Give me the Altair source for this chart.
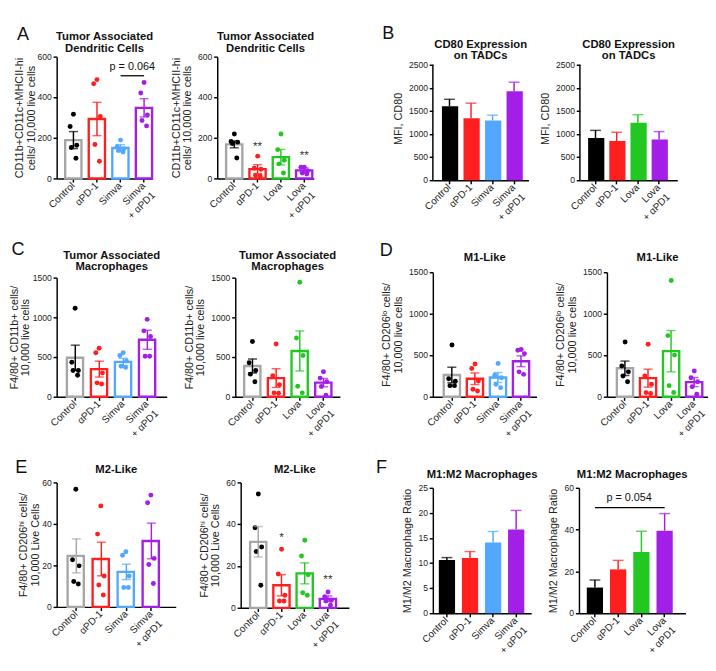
import altair as alt
import pandas as pd

FONT = "Liberation Sans"

SIMVA = ["Control", "αPD-1", "Simva", "Simva\n+ αPD1"]
LOVA = ["Control", "αPD-1", "Lova", "Lova\n+ αPD1"]

GREY = "#a6a6a6"
RED = "#ff1f1f"
BLUE = "#52a8ff"
PURPLE = "#a31ee6"
GREEN = "#22c722"
BLACK = "#000000"

# ---------------- data ----------------
a_left_mean = [189, 293, 150, 348]
a_left_sem = [42, 82, 17, 45]
a_left_dots = [[316, 256, 164, 153, 100], [487, 467, 305, 167, 85],
               [189, 156, 146, 138, 130], [473, 421, 313, 286, 259]]
a_right_mean = [168, 46, 105, 40]
a_right_sem = [17, 22, 38, 12]
a_right_dots = [[219, 182, 172, 179, 101], [110, 50, 45, 12, 15],
                [219, 142, 90, 72, 27], [55, 55, 37, 22, 27]]

b_left_mean = [1604, 1344, 1292, 1929]
b_left_sem = [149, 325, 117, 194]
b_right_mean = [916, 851, 1243, 883]
b_right_sem = [164, 189, 177, 171]

c_left_mean = [491, 348, 440, 718]
c_left_sem = [159, 100, 45, 120]
c_left_dots = [[1114, 434, 332, 332, 272], [610, 555, 300, 175, 160],
               [555, 520, 450, 385, 370], [975, 830, 760, 510, 510]]
c_right_mean = [387, 235, 577, 178]
c_right_sem = [88, 118, 252, 52]
c_right_dots = [[695, 429, 330, 285, 190], [665, 266, 152, 49, 45],
                [1443, 740, 520, 133, 49], [315, 235, 190, 130, 20]]

d_left_mean = [262, 217, 232, 428]
d_left_sem = [94, 70, 60, 65]
d_left_dots = [[623, 217, 188, 134, 134], [395, 340, 190, 90, 70],
               [400, 260, 230, 150, 110], [570, 560, 520, 300, 270]]
d_right_mean = [343, 224, 549, 177]
d_right_sem = [87, 108, 249, 55]
d_right_dots = [[660, 370, 300, 250, 180], [632, 250, 150, 50, 40],
                [1400, 737, 502, 134, 51], [310, 230, 180, 120, 30]]

e_left_mean = [24.6, 23.1, 16.9, 31.8]
e_left_sem = [8.2, 8.1, 3.7, 8.6]
e_left_dots = [[56.7, 22.7, 19.8, 12.3, 11.1], [48.7, 35.1, 14.9, 10.6, 5.8],
               [26.6, 24.9, 14.9, 9.4, 9.4], [53.9, 50.2, 23.4, 20.5, 11.3]]
e_right_mean = [31.6, 10.8, 16.5, 4.3]
e_right_sem = [7.3, 5.1, 5.0, 1.4]
e_right_dots = [[54.5, 38.3, 29.1, 27.0, 10.8], [28.0, 16.2, 6.0, 3.3, 3.3],
                [32.3, 24.8, 15.8, 7.2, 6.0], [7.6, 5.3, 3.6, 3.3, 1.2]]

f_left_mean = [10.6, 11.0, 14.1, 16.7]
f_left_sem = [0.5, 1.3, 2.2, 3.8]
f_right_mean = [12.3, 21.0, 29.3, 39.5]
f_right_sem = [3.6, 4.3, 9.9, 8.2]

JITTER = [0.0, -0.4, 0.4, -0.25, 0.3]


def panel(cats, fills, mean, sem, dots, ymax, ystep, title, ytitle, w, h,
          po, al, filled=False, err_colors=None, dot_colors=None,
          letter=None, letter_pos=(-40, -30), extras=None, tpad=5,
          title_y=(-18, -5), extra_top=0, ghost=None):
    lo = [m - s for m, s in zip(mean, sem)]
    hi = [m + s for m, s in zip(mean, sem)]
    ec = err_colors or fills
    df = pd.DataFrame({"g": cats, "m": mean, "lo": lo, "hi": hi,
                       "c": fills, "ec": ec})
    h_eff = h + extra_top
    dmax = ymax * h_eff / h
    xsc = alt.Scale(domain=cats, paddingInner=0.3, paddingOuter=po, align=al)
    ysc = alt.Scale(domain=[0, dmax], nice=False, zero=True)
    xax = alt.Axis(title=None, labelAngle=315, labelAlign="right",
                   labelBaseline="middle", labelExpr="split(datum.label, '\\n')",
                   labelFontSize=11, labelPadding=2, tickSize=4, labelLineHeight=15)
    yax = alt.Axis(title=ytitle, values=list(range(0, ymax + 1, ystep)),
                   format="d", tickSize=4, labelFontSize=9.5, labelPadding=2,
                   titlePadding=tpad, domain=(extra_top == 0))
    X = lambda f: alt.X(f, scale=xsc, axis=xax)
    Y = lambda f: alt.Y(f, scale=ysc, axis=yax)
    base = alt.Chart(df)
    if filled:
        bars = base.mark_bar().encode(
            x=X("g:N"), y=Y("m:Q"), color=alt.Color("c:N", scale=None))
        stem = base.mark_rule(strokeWidth=1.6).encode(
            x=X("g:N"), y=Y("m:Q"), y2="hi:Q",
            color=alt.Color("ec:N", scale=None))
        cap = base.mark_tick(thickness=1.6, size=12).encode(
            x=X("g:N"), y=Y("hi:Q"), color=alt.Color("ec:N", scale=None))
        layers = [stem, cap, bars]
    else:
        bars = base.mark_bar(fill="white", strokeWidth=2.6).encode(
            x=X("g:N"), y=Y("m:Q"), stroke=alt.Stroke("c:N", scale=None))
        rows = []
        dc = dot_colors or fills
        for gi, g in enumerate(cats):
            vals = sorted(dots[gi], reverse=True)
            for k, v in enumerate(vals):
                rows.append({"g": g, "v": v, "j": JITTER[k % len(JITTER)],
                             "dc": dc[gi]})
        ddf = pd.DataFrame(rows)
        pts = alt.Chart(ddf).mark_circle(size=30, opacity=1).encode(
            x=X("g:N"), xOffset=alt.XOffset("j:Q", scale=alt.Scale(domain=[-1, 1])),
            y=Y("v:Q"), color=alt.Color("dc:N", scale=None))
        stem = base.mark_rule(strokeWidth=1.6).encode(
            x=X("g:N"), y=Y("lo:Q"), y2="hi:Q",
            color=alt.Color("ec:N", scale=None))
        cap_hi = base.mark_tick(thickness=1.6, size=10).encode(
            x=X("g:N"), y=Y("hi:Q"), color=alt.Color("ec:N", scale=None))
        cap_lo = base.mark_tick(thickness=1.6, size=10).encode(
            x=X("g:N"), y=Y("lo:Q"), color=alt.Color("ec:N", scale=None))
        layers = [bars, pts, stem, cap_hi, cap_lo]
    if extra_top:
        adf = pd.DataFrame({"y0": [0], "y1": [ymax]})
        layers.append(alt.Chart(adf).mark_rule(color="black", strokeWidth=1.6)
                      .encode(x=alt.value(0), y=Y("y0:Q"), y2="y1:Q"))
    for ex in (extras or []):
        layers.extend(ex(X, Y))
    lines = title if isinstance(title, list) else [title]
    ys = title_y[-len(lines):]
    for line, ty in zip(lines, ys):
        layers.append(alt.Chart(pd.DataFrame({"t": [line]})).mark_text(
            fontSize=12.5, fontWeight="bold", font=FONT, color="#111",
            align="center", baseline="alphabetic"
        ).encode(text="t:N", x=alt.value(w / 2), y=alt.value(ty)))
    if letter:
        lt = alt.Chart(pd.DataFrame({"t": [letter]})).mark_text(
            fontSize=20, align="left", baseline="alphabetic", font=FONT,
            color="#111").encode(text="t:N", x=alt.value(letter_pos[0]),
                                 y=alt.value(letter_pos[1]))
        layers.append(lt)
    if ghost:
        gtext, gsize, gx, gy, galign = ghost
        layers.append(alt.Chart(pd.DataFrame({"t": [gtext]})).mark_text(
            fontSize=gsize, font=FONT, opacity=0, align=galign,
            baseline="alphabetic").encode(text="t:N", x=alt.value(gx),
                                          y=alt.value(gy)))
    return alt.layer(*layers).properties(width=w, height=h_eff)


def stars(cat_list, yvals, texts):
    def make(X, Y):
        sdf = pd.DataFrame({"g": cat_list, "y": yvals, "t": texts})
        return [alt.Chart(sdf).mark_text(fontSize=13, font=FONT, color="#333",
                                         baseline="middle").encode(
            x=X("g:N"), y=Y("y:Q"), text="t:N")]
    return make


def pline(c1, c2, yline, ytext, label, dx):
    def make(X, Y):
        ldf = pd.DataFrame({"g": [c1, c2], "y": [yline, yline]})
        ln = alt.Chart(ldf).mark_line(color="black", strokeWidth=1.4).encode(
            x=X("g:N"), y=Y("y:Q"))
        tdf = pd.DataFrame({"g": [c1], "y": [ytext], "t": [label]})
        tx = alt.Chart(tdf).mark_text(fontSize=12, font=FONT, color="#111",
                                      dx=dx, baseline="middle").encode(
            x=X("g:N"), y=Y("y:Q"), text="t:N")
        return [ln, tx]
    return make


S_COL = [GREY, RED, BLUE, PURPLE]
L_COL = [GREY, RED, GREEN, PURPLE]
S_DOT = [BLACK, RED, BLUE, PURPLE]
L_DOT = [BLACK, RED, GREEN, PURPLE]
S_FILL = [BLACK, RED, BLUE, PURPLE]
L_FILL = [BLACK, RED, GREEN, PURPLE]

ttl_dc = ["Tumor  Associated", "Dendritic Cells"]
ttl_mac = ["Tumor  Associated", "Macrophages"]
ttl_cd80 = ["CD80  Expression", "on TADCs"]

yt_a = ["CD11b+CD11c+MHCII-hi", "cells/ 10,000 live cells"]
yt_b = "MFI,  CD80"
yt_c = ["F4/80+ CD11b+ cells/", "10,000 live cells"]
yt_d = ["F4/80+ CD206ˡᵒ cells/", "10,000  live cells"]
yt_e = ["F4/80+ CD206ʰⁱ cells/", "10,000 Live Cells"]
yt_f = "M1/M2 Macrophage  Ratio"

pA1 = panel(SIMVA, S_COL, a_left_mean, a_left_sem, a_left_dots, 600, 200,
            ttl_dc, yt_a, 106, 135, 0.18, 1.0, tpad=0,
            err_colors=[BLACK, RED, BLUE, PURPLE], dot_colors=S_DOT,
            letter="A", letter_pos=(-44, -19),
            extras=[pline("Simva", "Simva\n+ αPD1", 506, 553, "p = 0.064", 13)])
pA2 = panel(LOVA, L_COL, a_right_mean, a_right_sem, a_right_dots, 600, 200,
            ttl_dc, yt_a, 107, 135, 0.22, 0.86,
            err_colors=[BLACK, RED, GREEN, PURPLE], dot_colors=L_DOT,
            extras=[stars(["αPD-1", "Lova\n+ αPD1"], [157, 112], ["**", "**"])])
pB1 = panel(SIMVA, S_FILL, b_left_mean, b_left_sem, None, 2500, 500,
            ttl_cd80, yt_b, 106, 128, 0.37, 0.57, filled=True,
            letter="B", letter_pos=(-56, -20), title_y=(-10, 3),
            extra_top=9, ghost=("B", 20, -56, -29, "left"))
pB2 = panel(LOVA, L_FILL, b_right_mean, b_right_sem, None, 2500, 500,
            ttl_cd80, yt_b, 108, 128, 0.45, 0.43, filled=True,
            title_y=(-10, 3), extra_top=9,
            ghost=("CD80  Expression", 12.5, 54, -19, "center"))

pC1 = panel(SIMVA, S_COL, c_left_mean, c_left_sem, c_left_dots, 1500, 500,
            ttl_mac, yt_c, 122, 132, 0.44, 0.48, tpad=1,
            err_colors=[BLACK, RED, BLUE, PURPLE], dot_colors=S_DOT,
            letter="C", letter_pos=(-50, -25), title_y=(-21, -8))
pC2 = panel(LOVA, L_COL, c_right_mean, c_right_sem, c_right_dots, 1500, 500,
            ttl_mac, yt_c, 116, 132, 0.36, 0.52,
            err_colors=[BLACK, RED, GREEN, PURPLE], dot_colors=L_DOT,
            title_y=(-21, -8))
pD1 = panel(SIMVA, S_COL, d_left_mean, d_left_sem, d_left_dots, 1500, 500,
            "M1-Like", yt_d, 115, 138, 0.40, 0.59,
            err_colors=[BLACK, RED, BLUE, PURPLE], dot_colors=S_DOT,
            letter="D", letter_pos=(-59, -18), title_y=(-12,))
pD2 = panel(LOVA, L_COL, d_right_mean, d_right_sem, d_right_dots, 1500, 500,
            "M1-Like", yt_d, 112, 138, 0.34, 0.63,
            err_colors=[BLACK, RED, GREEN, PURPLE], dot_colors=L_DOT,
            title_y=(-12,))

pE1 = panel(SIMVA, S_COL, e_left_mean, e_left_sem, e_left_dots, 60, 20,
            "M2-Like", yt_e, 132, 138, 0.53, 0.41, tpad=1,
            err_colors=[GREY, RED, BLUE, PURPLE], dot_colors=S_DOT,
            letter="E", letter_pos=(-46, -10), title_y=(-10,))
pE2 = panel(LOVA, L_COL, e_right_mean, e_right_sem, e_right_dots, 60, 20,
            "M2-Like", yt_e, 120, 139, 0.48, 0.42,
            err_colors=[GREY, RED, GREEN, PURPLE], dot_colors=L_DOT,
            title_y=(-10,),
            extras=[stars(["αPD-1", "Lova\n+ αPD1"], [33.7, 13.6], ["*", "**"])])
pF1 = panel(SIMVA, S_FILL, f_left_mean, f_left_sem, None, 25, 5,
            "M1:M2 Macrophages", yt_f, 109, 139, 0.28, 0.46, filled=True,
            letter="F", letter_pos=(-63, -17), title_y=(-11,))
pF2 = panel(LOVA, L_FILL, f_right_mean, f_right_sem, None, 60, 20,
            "M1:M2 Macrophages", yt_f, 118, 139, 0.44, 0.38, filled=True,
            title_y=(-11,),
            extras=[pline("Control", "Lova\n+ αPD1", 50.6, 55.4, "p = 0.054", 38)])

col_left = alt.vconcat(alt.hconcat(pA1, pA2, spacing=14),
                       alt.hconcat(pC1, pC2, spacing=18),
                       alt.hconcat(pE1, pE2, spacing=24), spacing=22)
col_right = alt.vconcat(alt.hconcat(pB1, pB2, spacing=10),
                        alt.hconcat(pD1, pD2, spacing=20),
                        alt.hconcat(pF1, pF2, spacing=11), spacing=21)

chart = alt.hconcat(col_left, col_right, spacing=30).properties(
    padding={"left": 0, "top": -28, "right": 0, "bottom": 0}
).configure(font=FONT).configure_view(stroke=None).configure_axis(
    domainColor="black", domainWidth=1.6, tickColor="black", tickWidth=1.6,
    labelColor="#222", titleColor="#222", labelFont=FONT, titleFont=FONT,
    titleFontSize=12, titleFontWeight="normal", titleLineHeight=12.5,
    grid=False
)

chart.save("out.html", embed_options={"renderer": "svg", "actions": False})
